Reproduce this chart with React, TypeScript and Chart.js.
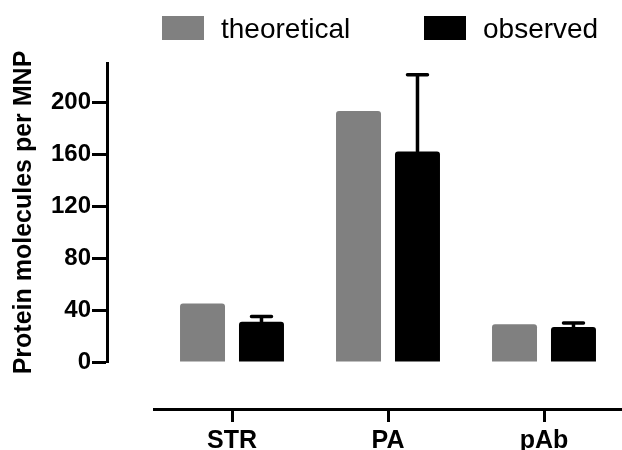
import React, { useEffect, useRef } from "react";
import { Chart, registerables } from "chart.js";

Chart.register(...registerables);

const categories = ["STR", "PA", "pAb"];
const seriesNames = ["theoretical", "observed"];
const theoretical = [45, 193, 29];
const observed = [31, 162, 27];
const observedErr = [4, 59, 3];
const yTickValues = [0, 40, 80, 120, 160, 200];
const yTitle = "Protein molecules per MNP";

const FONT = "'Liberation Sans', Arial, Helvetica, sans-serif";

const errorBarPlugin = {
  id: "errorBars",
  afterDatasetsDraw(chart: any) {
    const meta = chart.getDatasetMeta(1);
    const yScale = chart.scales.y;
    const ctx = chart.ctx;
    ctx.save();
    ctx.strokeStyle = "#000";
    ctx.lineWidth = 3.5;
    ctx.lineCap = "round";
    meta.data.forEach((bar: any, i: number) => {
      const top = yScale.getPixelForValue(observed[i] + observedErr[i]);
      ctx.beginPath();
      ctx.moveTo(bar.x, bar.y);
      ctx.lineTo(bar.x, top);
      ctx.moveTo(bar.x - 10, top);
      ctx.lineTo(bar.x + 10, top);
      ctx.stroke();
    });
    ctx.restore();
  },
};

const legendPlugin = {
  id: "customLegend",
  afterDraw(chart: any) {
    const ctx = chart.ctx;
    const boxX = [162, 424];
    const boxY = 16;
    const boxW = 42;
    const boxH = 24;
    ctx.save();
    ctx.font = `28px ${FONT}`;
    ctx.textBaseline = "alphabetic";
    ctx.textAlign = "left";
    chart.data.datasets.forEach((ds: any, i: number) => {
      ctx.fillStyle = ds.backgroundColor;
      ctx.fillRect(boxX[i], boxY, boxW, boxH);
      ctx.fillStyle = "#000";
      ctx.fillText(ds.label, boxX[i] + boxW + 17, 38);
    });
    ctx.restore();
  },
};

export default function App() {
  const ref = useRef<HTMLCanvasElement>(null);

  useEffect(() => {
    if (!ref.current) return;
    Chart.defaults.font.family = FONT;
    const chart = new Chart(ref.current, {
      type: "bar",
      data: {
        labels: categories,
        datasets: [
          {
            label: seriesNames[0],
            data: theoretical,
            backgroundColor: "#808080",
            borderRadius: 3,
            categoryPercentage: 0.756,
            barPercentage: 0.763,
          },
          {
            label: seriesNames[1],
            data: observed,
            backgroundColor: "#000000",
            borderRadius: 3,
            categoryPercentage: 0.756,
            barPercentage: 0.763,
          },
        ],
      },
      options: {
        animation: false,
        responsive: true,
        maintainAspectRatio: false,
        layout: { padding: { left: 5, top: 63, right: 0, bottom: 0 } },
        plugins: {
          legend: { display: false },
          tooltip: { enabled: false },
        },
        scales: {
          x: {
            type: "category",
            position: "bottom",
            weight: 1,
            offset: true,
            grid: {
              display: true,
              drawOnChartArea: false,
              drawTicks: true,
              offset: false,
              tickLength: 13,
              tickWidth: 3,
              tickColor: "#000",
            },
            border: { display: true, width: 3, color: "#000" },
            ticks: {
              color: "#000",
              font: { size: 25, weight: "bold" },
              padding: 4,
              maxRotation: 0,
            },
            afterFit: (s: any) => {
              s.height = 41;
            },
          },
          xGap: {
            type: "linear",
            position: "bottom",
            weight: 0,
            display: true,
            grid: { display: false },
            border: { display: false },
            ticks: { display: false },
            afterFit: (s: any) => {
              s.height = 47;
            },
          },
          y: {
            type: "linear",
            position: "left",
            weight: 1,
            min: 0,
            max: 230,
            afterBuildTicks: (s: any) => {
              s.ticks = yTickValues.map((v) => ({ value: v }));
            },
            grid: {
              display: true,
              drawOnChartArea: false,
              drawTicks: true,
              tickLength: 15,
              tickWidth: 3,
              tickColor: "#000",
            },
            border: { display: true, width: 3, color: "#000" },
            ticks: {
              color: "#000",
              font: { size: 24, weight: "bold" },
              padding: 1,
            },
            title: {
              display: true,
              text: yTitle,
              color: "#000",
              font: { size: 25, weight: "bold" },
              padding: { top: 4, bottom: 4 },
            },
            afterFit: (s: any) => {
              s.width = 102;
            },
          },
          yGap: {
            type: "linear",
            position: "left",
            weight: 0,
            display: true,
            grid: { display: false },
            border: { display: false },
            ticks: { display: false },
            afterFit: (s: any) => {
              s.width = 47;
            },
          },
        },
      },
      plugins: [errorBarPlugin, legendPlugin],
    } as any);
    return () => chart.destroy();
  }, []);

  return (
    <div
      style={{
        position: "fixed",
        left: 0,
        top: 0,
        width: "622px",
        height: "450px",
        background: "#fff",
      }}
    >
      <canvas ref={ref} />
    </div>
  );
}
